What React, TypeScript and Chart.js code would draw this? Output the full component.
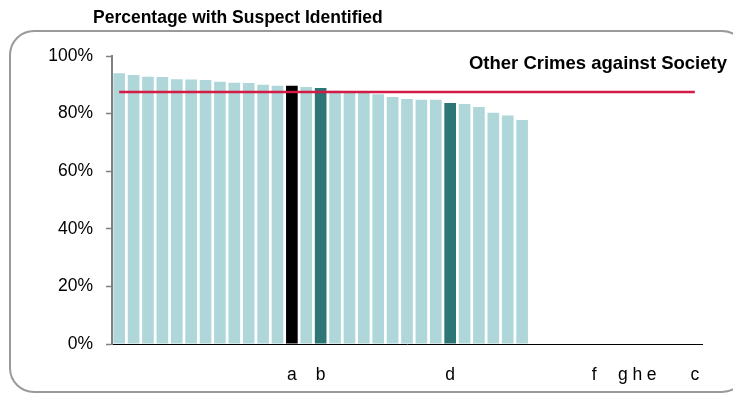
import React, { useEffect, useRef } from "react";
import { Chart, registerables } from "chart.js";

Chart.register(...registerables);

const categories: string[] = [
  "", "", "", "", "", "", "", "", "", "", "", "", "a", "", "b", "", "", "", "", "", "",
  "", "", "d", "", "", "", "", "", "", "", "", "", "f", "", "g", "h", "e", "", "", "c",
];

const barValues: (number | null)[] = [
  94.0, 93.4, 92.8, 92.7, 91.9, 91.8, 91.7, 91.1, 90.7, 90.6, 90.0, 89.7, 89.7, 89.2, 88.9,
  87.9, 87.8, 87.7, 86.7, 85.8, 85.1, 84.8, 84.8, 83.7, 83.3, 82.3, 80.3, 79.3, 77.8,
  null, null, null, null, null, null, null, null, null, null, null, null,
];

const highlightBlack: number[] = [12];
const highlightDark: number[] = [14, 23];

const referenceValue = 87.5;
const referenceLabel = "Other Crimes against Society";
const chartTitle = "Percentage with Suspect Identified";
const yTicks: number[] = [0, 20, 40, 60, 80, 100];

const LIGHT = "#afd6d9";
const DARK = "#2e7575";
const BLACK = "#000000";
const RED = "#d31b45";
const FONT = "'Liberation Sans', Arial, sans-serif";

export default function App() {
  const ref = useRef<HTMLCanvasElement | null>(null);

  useEffect(() => {
    if (!ref.current) return;
    const colors = categories.map((_, i) =>
      highlightBlack.includes(i) ? BLACK : highlightDark.includes(i) ? DARK : LIGHT
    );

    const decor = {
      id: "decor",
      beforeDraw(chart: any) {
        const ctx = chart.ctx;
        ctx.save();
        ctx.strokeStyle = "#9a9a9a";
        ctx.lineWidth = 2;
        ctx.beginPath();
        (ctx as any).roundRect(10, 31, 736, 361, 24);
        ctx.stroke();
        ctx.fillStyle = "#000";
        ctx.font = `bold 17.5px ${FONT}`;
        ctx.textAlign = "left";
        ctx.textBaseline = "middle";
        ctx.fillText(chartTitle, 93, 18);
        ctx.restore();
      },
      afterDatasetsDraw(chart: any) {
        const ctx = chart.ctx;
        ctx.save();
        ctx.fillStyle = "#000";
        ctx.font = `bold 18.5px ${FONT}`;
        ctx.textAlign = "right";
        ctx.textBaseline = "middle";
        ctx.fillText(referenceLabel, 727, 64);
        ctx.restore();
      },
    };

    const chart = new Chart(ref.current, {
      type: "bar",
      data: {
        labels: categories,
        datasets: [
          {
            type: "line",
            data: categories.map(() => referenceValue),
            borderColor: RED,
            borderWidth: 2.5,
            pointRadius: 0,
            fill: false,
            order: 0,
          } as any,
          {
            type: "bar",
            data: barValues,
            backgroundColor: colors,
            borderWidth: 0,
            categoryPercentage: 1,
            barPercentage: 0.81,
            order: 1,
          },
        ],
      },
      options: {
        responsive: false,
        animation: false,
        layout: { padding: { top: 56, right: 31, left: 0, bottom: 0 } },
        plugins: {
          legend: { display: false },
          title: { display: false },
          tooltip: { enabled: false },
        },
        scales: {
          x: {
            afterFit: (s: any) => {
              s.height = 49;
            },
            grid: { display: false },
            border: { display: true, color: "#000", width: 1 },
            ticks: {
              autoSkip: false,
              maxRotation: 0,
              minRotation: 0,
              padding: 13,
              color: "#000",
              font: { family: FONT, size: 17.5 },
            },
          },
          y: {
            min: 0,
            max: 100,
            afterFit: (s: any) => {
              s.width = 112;
            },
            afterBuildTicks: (s: any) => {
              s.ticks = yTicks.map((v) => ({ value: v }));
            },
            grid: {
              display: true,
              drawOnChartArea: false,
              drawTicks: true,
              tickLength: 6,
              tickColor: "#808080",
              tickWidth: 1.5,
            },
            border: { display: true, color: "#808080", width: 2 },
            ticks: {
              padding: 13,
              color: "#000",
              font: { family: FONT, size: 17.5 },
              callback: (v: any) => `${v}%`,
            },
          },
        },
      },
      plugins: [decor],
    });
    return () => chart.destroy();
  }, []);

  return (
    <div style={{ position: "absolute", left: 0, top: 0, width: 733, height: 393 }}>
      <canvas ref={ref} width={733} height={393} />
    </div>
  );
}
